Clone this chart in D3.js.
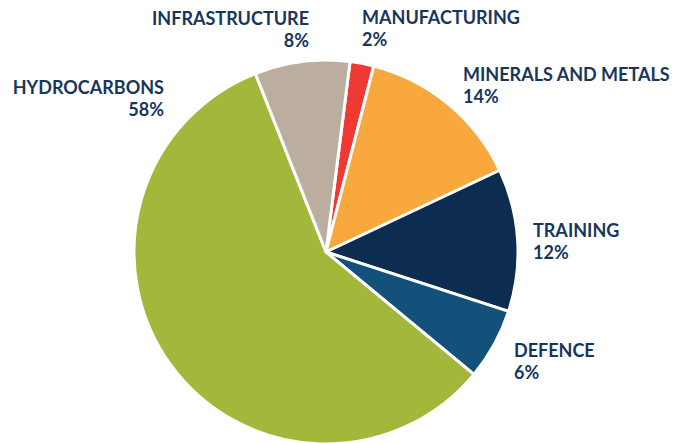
<!DOCTYPE html>
<html><head><meta charset="utf-8">
<script src="https://cdn.jsdelivr.net/npm/d3@7"></script>
<style>html,body{margin:0;padding:0;background:#fff;overflow:hidden}</style>
</head><body>
<svg id="chart" width="683" height="443"></svg>
<script>
const categories = ["MANUFACTURING","MINERALS AND METALS","TRAINING","DEFENCE","HYDROCARBONS","INFRASTRUCTURE"];
const values = [2, 14, 12, 6, 58, 8];
const colors = ["#EE3A33","#F9A83E","#0C2D4F","#13517B","#A1B83B","#BBAE9F"];
// label placement: [x, baseline y, anchor]
const labelLayout = {
  "MANUFACTURING": [362, 24, "start"],
  "MINERALS AND METALS": [463, 81, "start"],
  "TRAINING": [533, 237, "start"],
  "DEFENCE": [514, 357, "start"],
  "HYDROCARBONS": [164, 94, "end"],
  "INFRASTRUCTURE": [309, 25, "end"]
};
const data = categories.map((c,i)=>({cat:c, value:values[i], color:colors[i]}));
const svg = d3.select("#chart");
const cx = 326, cy = 252, r = 192;
const offset = 7.2 * Math.PI/180;
const pie = d3.pie().value(d=>d.value).sort(null).startAngle(offset).endAngle(offset + 2*Math.PI);
const arc = d3.arc().innerRadius(0).outerRadius(r);
const g = svg.append("g").attr("transform",`translate(${cx},${cy})`);
g.selectAll("path").data(pie(data)).join("path")
  .attr("d",arc).attr("fill",d=>d.data.color)
  .attr("stroke","#fff").attr("stroke-width",3).attr("stroke-linejoin","round");
const lab = svg.append("g").attr("font-family","Lato, 'Open Sans', sans-serif")
  .attr("font-weight","bold").attr("font-size","18px").attr("fill","#17365A");
data.forEach(d=>{
  const [x,y,a] = labelLayout[d.cat];
  const t = lab.append("text").attr("x",x).attr("y",y).attr("text-anchor",a);
  t.append("tspan").attr("x",x).text(d.cat);
  t.append("tspan").attr("x",x).attr("dy",21.5).text(d.value+"%");
});
</script>
</body></html>
